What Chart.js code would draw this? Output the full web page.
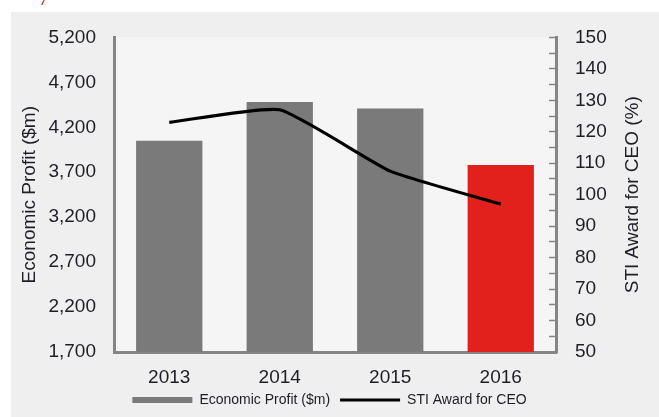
<!DOCTYPE html>
<html>
<head>
<meta charset="utf-8">
<script src="https://cdn.jsdelivr.net/npm/chart.js@4.4.1/dist/chart.umd.min.js"></script>
<style>
  html, body { margin: 0; padding: 0; background: #ffffff; }
  canvas { display: block; }
</style>
</head>
<body>
<canvas id="chart" width="659" height="417"></canvas>
<script>
// datos del gráfico
const years = ['2013', '2014', '2015', '2016'];
const economicProfit = [4050, 4480, 4410, 3780];
const stiAward = [123, 127, 107.5, 97];
const barColors = ['#7a7a7a', '#7a7a7a', '#7a7a7a', '#e3211c'];

const textColor = '#1e1e28';
const axisColor = '#858585';
Chart.defaults.font.family = "'Liberation Sans', Arial, sans-serif";
Chart.defaults.color = textColor;

// fondo gris y título del eje derecho
const decoPlugin = {
  id: 'deco',
  beforeDraw(chart) {
    const { ctx, chartArea } = chart;
    ctx.save();
    ctx.fillStyle = '#ffffff';
    ctx.fillRect(0, 0, chart.width, chart.height);
    ctx.fillStyle = '#efefef';
    ctx.fillRect(11, 12, chart.width - 11, chart.height - 12);
    ctx.fillStyle = '#f5f5f5';
    ctx.fillRect(chartArea.left, chartArea.top, chartArea.right - chartArea.left, chartArea.bottom - chartArea.top);
    ctx.fillStyle = '#e8201c';
    ctx.font = "italic 16px 'Liberation Sans', Arial";
    ctx.textBaseline = 'alphabetic';
    ctx.fillText('/', 42, 5);
    ctx.restore();
  },
  afterDraw(chart) {
    const { ctx, chartArea } = chart;
    ctx.save();
    ctx.translate(633, (chartArea.top + chartArea.bottom) / 2);
    ctx.rotate(-Math.PI / 2);
    ctx.fillStyle = textColor;
    ctx.font = "19px 'Liberation Sans', Arial";
    ctx.textAlign = 'center';
    ctx.textBaseline = 'middle';
    ctx.fillText('STI Award for CEO (%)', 0, 0);
    ctx.restore();
  }
};

const ctx = document.getElementById('chart').getContext('2d');
const chart = new Chart(ctx, {
  type: 'bar',
  data: {
    labels: years,
    datasets: [
      {
        type: 'bar',
        label: 'Economic Profit ($m)',
        data: economicProfit,
        backgroundColor: barColors,
        yAxisID: 'y',
        barPercentage: 0.6,
        categoryPercentage: 1,
        order: 1
      },
      {
        type: 'line',
        label: 'STI Award for CEO',
        data: stiAward,
        borderColor: '#000000',
        backgroundColor: '#000000',
        borderWidth: 3.2,
        pointRadius: 0,
        tension: 0.15,
        yAxisID: 'y1',
        order: 0
      }
    ]
  },
  options: {
    responsive: false,
    devicePixelRatio: 1,
    animation: false,
    layout: { padding: { left: 0, right: 0, top: 32, bottom: 0 } },
    plugins: {
      tooltip: { enabled: false },
      legend: {
        position: 'bottom',
        labels: {
          usePointStyle: true,
          pointStyleWidth: 60,
          boxHeight: 6,
          padding: 10,
          color: textColor,
          font: { size: 14 },
          sort: (a, b) => a.datasetIndex - b.datasetIndex,
          generateLabels(chart) {
            const items = Chart.defaults.plugins.legend.labels.generateLabels(chart);
            items.forEach((it) => {
              if (it.datasetIndex === 0) {
                it.pointStyle = 'rect';
                it.fillStyle = barColors[0];
                it.strokeStyle = barColors[0];
                it.lineWidth = 0;
              } else {
                it.pointStyle = 'line';
                it.fillStyle = '#000000';
                it.strokeStyle = '#000000';
                it.lineWidth = 3;
              }
            });
            return items;
          }
        }
      }
    },
    scales: {
      x: {
        grid: { display: false, drawTicks: false },
        border: { display: true, color: axisColor, width: 3 },
        ticks: { font: { size: 19 }, padding: 14, color: textColor },
        afterFit(scale) { scale.height = 31; }
      },
      y: {
        position: 'left',
        min: 1700,
        max: 5200,
        grid: { display: false, drawTicks: false },
        border: { display: true, color: axisColor, width: 3 },
        ticks: {
          stepSize: 500,
          font: { size: 19 },
          padding: 18,
          color: textColor,
          callback: (v) => v.toLocaleString('en-US')
        },
        title: {
          display: true,
          text: 'Economic Profit ($m)',
          font: { size: 19 },
          color: textColor,
          padding: { top: 18, bottom: 0 }
        },
        afterFit(scale) { scale.width = 114; }
      },
      y1: {
        position: 'right',
        min: 50,
        max: 150,
        grid: {
          display: true,
          drawOnChartArea: false,
          drawTicks: true,
          tickLength: -7,
          color: axisColor,
          tickColor: axisColor,
          tickWidth: 1.5
        },
        border: { display: true, color: axisColor, width: 3 },
        ticks: {
          stepSize: 5,
          autoSkip: false,
          font: { size: 19 },
          padding: 26,
          color: textColor,
          callback: (v) => (v % 10 === 0 ? String(v) : '')
        },
        afterFit(scale) { scale.width = 103; }
      }
    }
  },
  plugins: [decoPlugin]
});
</script>
</body>
</html>
